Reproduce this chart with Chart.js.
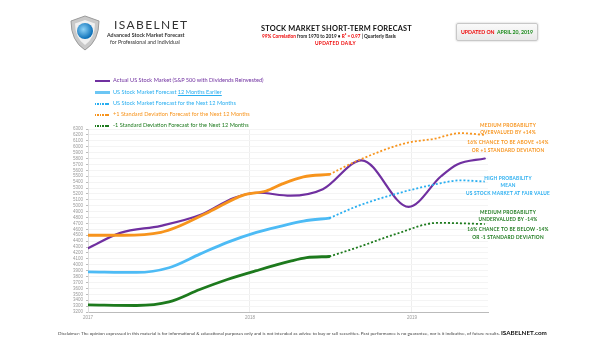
<!DOCTYPE html>
<html>
<head>
<meta charset="utf-8">
<script src="https://cdn.jsdelivr.net/npm/chart.js@4"></script>
<style>
  body { margin:0; background:#fff; font-family: Lato, "Open Sans", sans-serif; }
  #wrap { position:relative; width:605px; height:341px; overflow:hidden; }
  #wrap canvas { position:absolute; left:0; top:0; }
  .abs { position:absolute; white-space:nowrap; }
  .leg { position:absolute; left:95px; font-size:5.6px; white-space:nowrap; }
  .leg i { display:inline-block; width:15px; height:2px; vertical-align:middle; margin-right:3px; }
  .note { position:absolute; width:120px; left:448px; text-align:center; font-size:4.8px; font-weight:bold; line-height:7.3px; letter-spacing:0.2px; }
</style>
</head>
<body>
<div id="wrap">
  <canvas id="chart" width="605" height="341"></canvas>

  <!-- logo -->
  <svg class="abs" style="left:68px;top:14px" width="34" height="38" viewBox="0 0 34 38">
    <defs>
      <radialGradient id="ball" cx="0.4" cy="0.4" r="0.6">
        <stop offset="0" stop-color="#8fd3f7"/><stop offset="1" stop-color="#0a6fb8"/>
      </radialGradient>
    </defs>
    <path d="M17 2 L31 7 Q31 27 17 36 Q3 27 3 7 Z" fill="#c9c9c9" stroke="#9a9a9a" stroke-width="1"/>
    <path d="M17 6 L27 9.5 Q27 24 17 31 Q7 24 7 9.5 Z" fill="#f0f0f0"/>
    <circle cx="17" cy="17" r="8" fill="url(#ball)"/>
  </svg>
  <div class="abs" style="left:114px;top:17px;font-size:12px;letter-spacing:1.4px;color:#333">ISABELNET</div>
  <div class="abs" style="left:107px;top:32px;font-size:5.3px;font-weight:bold;color:#333">Advanced Stock Market Forecast</div>
  <div class="abs" style="left:110px;top:39px;font-size:5.3px;color:#333">for Professional and Individual</div>

  <!-- title -->
  <div class="abs" style="left:261px;top:24px;font-size:7.4px;font-weight:bold;color:#111;letter-spacing:0.2px">STOCK MARKET SHORT-TERM FORECAST</div>
  <div class="abs" style="left:262px;top:33px;font-size:4.7px;font-weight:bold;color:#222"><span style="color:#e00">99% Correlation</span> from 1970 to 2019 • <span style="color:#e00">R² = 0.97</span> | Quarterly Basis</div>
  <div class="abs" style="left:315px;top:40px;font-size:4.8px;font-weight:bold;color:#e00;letter-spacing:0.3px">UPDATED DAILY</div>

  <!-- updated box -->
  <div class="abs" style="left:456px;top:23px;width:80px;height:16px;border:1px solid #c8c8c8;border-radius:2px;background:linear-gradient(#fafafa,#e9e9e9);box-shadow:0 0 2px #bbb;font-size:5.2px;font-weight:bold;line-height:16px;text-align:center">
    <span style="color:#e00">UPDATED ON</span>&nbsp; <span style="color:#1a8a1a">APRIL 20, 2019</span>
  </div>

  <!-- legend -->
  <div class="leg" style="top:76px;color:#7030a0"><i style="background:#7030a0"></i>Actual US Stock Market (S&amp;P 500 with Dividends Reinvested)</div>
  <div class="leg" style="top:88px;color:#29aef0"><i style="background:#6cc6f4;height:2.5px"></i>US Stock Market Forecast <u>12 Months Earlier</u></div>
  <div class="leg" style="top:99px;color:#29aef0"><i style="background:repeating-linear-gradient(90deg,#29aef0 0 1.5px,transparent 1.5px 2.5px)"></i>US Stock Market Forecast for the Next 12 Months</div>
  <div class="leg" style="top:110px;color:#f7941d"><i style="background:repeating-linear-gradient(90deg,#f7941d 0 1.5px,transparent 1.5px 2.5px)"></i>+1 Standard Deviation Forecast for the Next 12 Months</div>
  <div class="leg" style="top:121px;color:#1d7a1d"><i style="background:repeating-linear-gradient(90deg,#1d7a1d 0 1.5px,transparent 1.5px 2.5px)"></i>-1 Standard Deviation Forecast for the Next 12 Months</div>

  <!-- notes -->
  <div class="note" style="top:122px;color:#f7941d">MEDIUM PROBABILITY<br>OVERVALUED BY +14%<br><span style="line-height:10px">16% CHANCE TO BE ABOVE +14%</span><br>OR +1 STANDARD DEVIATION</div>
  <div class="note" style="top:175px;color:#29aef0">HIGH PROBABILITY<br>MEAN<br>US STOCK MARKET AT FAIR VALUE</div>
  <div class="note" style="top:209px;color:#1d7a1d">MEDIUM PROBABILITY<br>UNDERVALUED BY -14%<br><span style="line-height:10px">16% CHANCE TO BE BELOW -14%</span><br>OR -1 STANDARD DEVIATION</div>

  <!-- disclaimer -->
  <div class="abs" style="left:58px;top:329px;font-size:4.55px;color:#444">Disclaimer: The opinion expressed in this material is for informational &amp; educational purposes only and is not intended as advice to buy or sell securities. Past performance is no guarantee, nor is it indicative, of future results. <b style="font-size:6.3px;color:#111">ISABELNET.com</b></div>
</div>

<script>
// actual market (purple)
const actualYears  = [2017.0, 2017.2, 2017.45, 2017.7, 2017.9, 2018.05, 2018.25, 2018.45, 2018.69, 2018.98, 2019.18, 2019.28, 2019.45];
const actualValues = [4280, 4540, 4660, 4850, 5130, 5220, 5170, 5280, 5770, 4980, 5500, 5700, 5800];

// forecast made 12 months earlier (solid) and next 12 months (dotted)
const fcYears      = [2017.0, 2017.3, 2017.5, 2017.69, 2017.86, 2018.04, 2018.2, 2018.33, 2018.49];
const meanValues   = [3880, 3870, 3950, 4180, 4380, 4550, 4660, 4740, 4790];
const upperYears   = [2017.0, 2017.22, 2017.45, 2017.55, 2017.75, 2017.96, 2018.1, 2018.2, 2018.33, 2018.49];
const upperValues  = [4500, 4500, 4550, 4640, 4900, 5180, 5250, 5370, 5490, 5530];
const lowerYears   = [2017.0, 2017.3, 2017.5, 2017.69, 2017.86, 2018.04, 2018.25, 2018.35, 2018.49];
const lowerValues  = [3320, 3310, 3370, 3580, 3750, 3900, 4060, 4120, 4140];

const nextMeanYears   = [2018.49, 2018.67, 2018.9, 2019.14, 2019.3, 2019.45];
const nextMeanValues  = [4790, 5000, 5200, 5360, 5430, 5410];
const nextUpperYears  = [2018.49, 2018.67, 2018.96, 2019.13, 2019.3, 2019.45];
const nextUpperValues = [5530, 5770, 6060, 6130, 6230, 6200];
const nextLowerYears  = [2018.49, 2018.67, 2018.9, 2019.16, 2019.45];
const nextLowerValues = [4140, 4300, 4520, 4710, 4690];

const yearTicks = [2017, 2018, 2019];
const yMin = 3200, yMax = 6300;

const pts = (xs, ys) => xs.map((x, i) => ({x, y: ys[i]}));

const purple = '#7030a0', blue = '#29aef0', lightBlue = '#4dbbf5', orange = '#f7941d', green = '#1d7a1d';

function line(data, color, width, dotted){
  return {
    data, borderColor: color, borderWidth: width, pointRadius: 0,
    cubicInterpolationMode: 'monotone', fill: false,
    borderDash: dotted ? [2, 2] : [], borderCapStyle: dotted ? 'butt' : 'round'
  };
}

new Chart(document.getElementById('chart'), {
  type: 'line',
  data: {
    datasets: [
      line(pts(nextUpperYears, nextUpperValues), orange, 1.8, true),
      line(pts(nextMeanYears, nextMeanValues), blue, 1.8, true),
      line(pts(nextLowerYears, nextLowerValues), green, 1.8, true),
      line(pts(upperYears, upperValues), orange, 2.8),
      line(pts(fcYears, meanValues), lightBlue, 2.8),
      line(pts(lowerYears, lowerValues), green, 2.8),
      line(pts(actualYears, actualValues), purple, 2.2)
    ]
  },
  options: {
    responsive: false, animation: false,
    layout: { padding: { left: 58, top: 129, right: 117, bottom: 17 } },
    plugins: { legend: { display: false }, tooltip: { enabled: false } },
    scales: {
      x: {
        type: 'linear', min: 2017, max: 2019.47,
        afterBuildTicks: s => { s.ticks = yearTicks.map(v => ({value: v})); },
        ticks: { color: '#999', font: { size: 4.5 }, padding: 3, maxRotation: 0, callback: v => String(v) },
        grid: { color: '#eeeeee', lineWidth: 1, drawTicks: false },
        border: { color: '#bbb' },
        afterFit: s => { s.height = 12; }
      },
      y: {
        min: yMin, max: yMax,
        ticks: { stepSize: 100, autoSkip: false, color: '#999', font: { size: 4.5 }, padding: 3, callback: v => String(v) },
        grid: { color: '#f4f4f4', lineWidth: 1, tickLength: 2, tickColor: '#bbb' },
        border: { color: '#ddd' },
        afterFit: s => { s.width = 30; }
      }
    }
  }
});
</script>
</body>
</html>
